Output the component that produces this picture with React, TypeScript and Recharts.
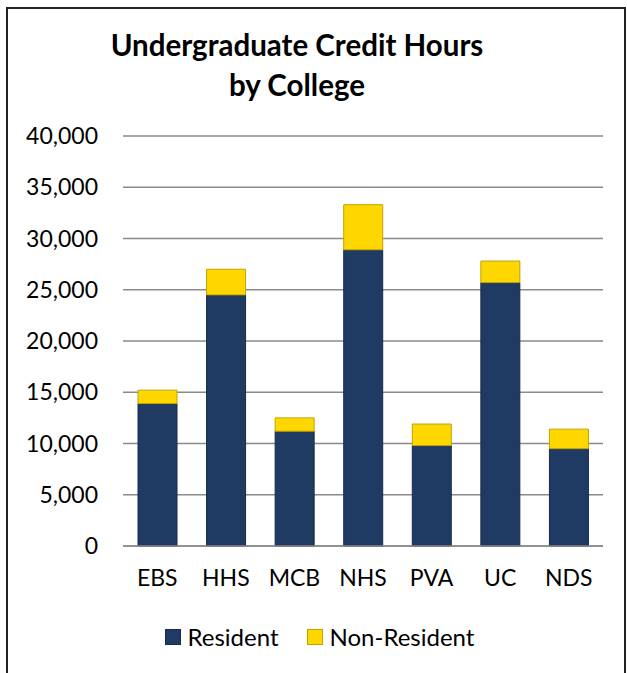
import React from "react"
import { Bar, BarChart, CartesianGrid, Legend, XAxis, YAxis } from "recharts"

const colleges = ["EBS", "HHS", "MCB", "NHS", "PVA", "UC", "NDS"]
const resident = [13900, 24500, 11200, 28900, 9800, 25700, 9500]
const nonResident = [1300, 2500, 1300, 4400, 2100, 2100, 1900]
const yTicks = [0, 5000, 10000, 15000, 20000, 25000, 30000, 35000, 40000]
const seriesOrder = ["Resident", "Non-Resident"]

const data = colleges.map((name, i) => ({
  name,
  resident: resident[i],
  nonResident: nonResident[i],
}))

const font = "Lato, 'Noto Sans', sans-serif"

function LegendContent(props: any) {
  const items = [...(props.payload || [])].sort(
    (a: any, b: any) => seriesOrder.indexOf(a.value) - seriesOrder.indexOf(b.value)
  )
  return (
    <div style={{ display: "flex", justifyContent: "center", gap: 28, fontFamily: font, fontSize: 24, color: "#000" }}>
      {items.map((item: any) => (
        <div key={item.value} style={{ display: "flex", alignItems: "center" }}>
          <span
            style={{
              display: "inline-block",
              width: 14,
              height: 14,
              background: item.color,
              border: "1px solid " + (item.payload?.stroke || item.color),
              marginRight: 7,
            }}
          />
          <span>{item.value}</span>
        </div>
      ))}
    </div>
  )
}

export default function App() {
  return (
    <div style={{ position: "absolute", left: 0, top: 0, width: 627, height: 673, overflow: "hidden", background: "#fff" }}>
      <div
        style={{
          position: "absolute",
          left: 6,
          top: 7,
          width: 616,
          height: 720,
          borderLeft: "2px solid #222",
          borderTop: "2px solid #222",
          borderRight: "2px solid #222",
        }}
      />
      <div
        style={{
          position: "absolute",
          left: 47,
          top: 25,
          width: 500,
          textAlign: "center",
          fontFamily: font,
          fontWeight: 700,
          fontSize: 29.5,
          lineHeight: "40px",
          color: "#000",
        }}
      >
        Undergraduate Credit Hours
        <br />
        by College
      </div>
      <div style={{ position: "absolute", left: 0, top: 0 }}>
        <BarChart width={627} height={673} data={data} margin={{ top: 136, right: 24, bottom: 68, left: 0 }}>
          <CartesianGrid vertical={false} stroke="#8a8a8a" strokeWidth={1.5} />
          <XAxis
            dataKey="name"
            axisLine={{ stroke: "#8a8a8a", strokeWidth: 1.5 }}
            tickLine={false}
            tickSize={0}
            tickMargin={24}
            tick={{ fill: "#000", fontSize: 23, fontFamily: font }}
            interval={0}
          />
          <YAxis
            width={123}
            domain={[0, 40000]}
            ticks={yTicks}
            axisLine={false}
            tickLine={false}
            tickSize={0}
            tickMargin={25}
            tick={{ fill: "#000", fontSize: 23, fontFamily: font }}
            tickFormatter={(v: number) => v.toLocaleString("en-US")}
          />
          <Legend
            verticalAlign="bottom"
            content={<LegendContent />}
            wrapperStyle={{ left: 6, width: 627, top: 622 }}
          />
          <Bar dataKey="resident" name="Resident" stackId="a" fill="#1f3b63" stroke="#172c4b" barSize={39} isAnimationActive={false} />
          <Bar dataKey="nonResident" name="Non-Resident" stackId="a" fill="#ffd700" stroke="#c2a300" barSize={39} isAnimationActive={false} />
        </BarChart>
      </div>
    </div>
  )
}
